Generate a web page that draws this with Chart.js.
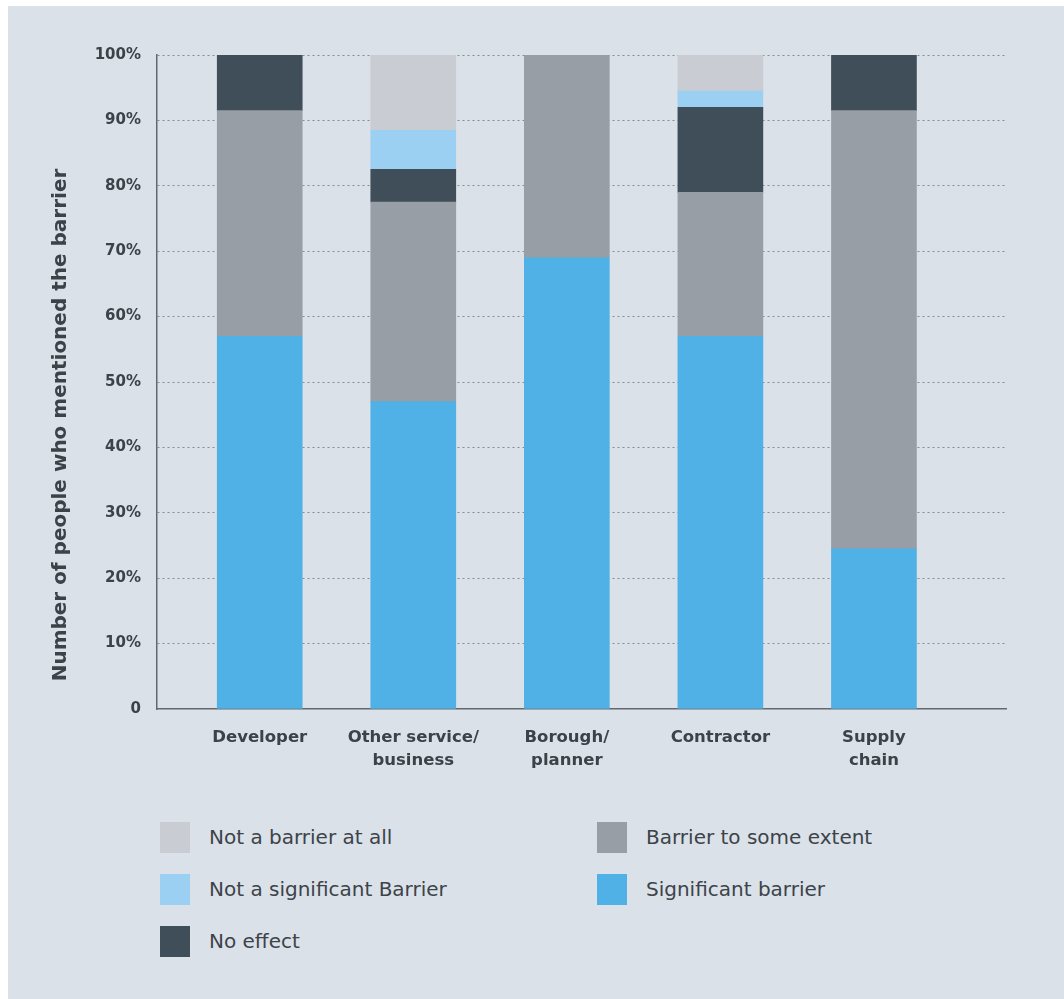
<!DOCTYPE html>
<html lang="en">
<head>
<meta charset="utf-8">
<title>Barriers by respondent type</title>
<script src="https://cdn.jsdelivr.net/npm/chart.js"></script>
<style>
  html, body {
    margin: 0;
    padding: 0;
    background: #ffffff;
  }
  .panel {
    position: absolute;
    left: 8px;
    top: 6px;
    width: 1056px;
    height: 993px;
    background: #dae1e8;
  }
  #chartWrap {
    position: absolute;
    left: 0;
    top: 0;
    width: 1064px;
    height: 790px;
  }
  #legend {
    position: absolute;
    left: 0;
    top: 0;
    font-family: 'DejaVu Sans', sans-serif;
    font-size: 20px;
    color: #3d4349;
  }
  .legend-item {
    position: absolute;
    display: flex;
    align-items: center;
    white-space: nowrap;
  }
  .legend-box {
    width: 30px;
    height: 31px;
    margin-right: 19px;
  }
</style>
</head>
<body>
<div class="panel"></div>
<div id="chartWrap"><canvas id="barrierChart" width="1064" height="790"></canvas></div>
<div id="legend"></div>

<script>
// Categories and tick label lines
const categories = ['Developer', 'Other service/business', 'Borough/planner', 'Contractor', 'Supply chain'];
const categoryLines = [['Developer'], ['Other service/', 'business'], ['Borough/', 'planner'], ['Contractor'], ['Supply', 'chain']];

// Share of responses (%), stacked bottom to top
const significant = [57, 47, 69, 57, 24.5];
const someExtent = [34.5, 30.5, 31, 22, 67];
const noEffect = [8.5, 5, 0, 13, 8.5];
const notSignificant = [0, 6, 0, 2.5, 0];
const notAtAll = [0, 11.5, 0, 5.5, 0];

// Y axis ticks
const yTicks = [0, 10, 20, 30, 40, 50, 60, 70, 80, 90, 100];

const textColor = '#3c4248';
const axisTitle = 'Number of people who mentioned the barrier';

function toPoints(values) {
  return values.map((v, i) => ({ x: i, y: v }));
}

const datasets = [
  { label: 'Significant barrier', data: toPoints(significant), backgroundColor: '#4fb1e5' },
  { label: 'Barrier to some extent', data: toPoints(someExtent), backgroundColor: '#979ea6' },
  { label: 'No effect', data: toPoints(noEffect), backgroundColor: '#3f4e59' },
  { label: 'Not a significant Barrier', data: toPoints(notSignificant), backgroundColor: '#9bd0f3' },
  { label: 'Not a barrier at all', data: toPoints(notAtAll), backgroundColor: '#c9ccd2' },
];

// Rotated y title, drawn a little below the plot's middle
const yTitlePlugin = {
  id: 'yTitle',
  afterDraw(chart) {
    const ctx = chart.ctx;
    ctx.save();
    ctx.translate(66, 425);
    ctx.rotate(-Math.PI / 2);
    ctx.font = 'bold 20px "DejaVu Sans"';
    ctx.fillStyle = textColor;
    ctx.textAlign = 'center';
    ctx.textBaseline = 'alphabetic';
    ctx.fillText(axisTitle, 0, 0);
    ctx.restore();
  },
};

const chart = new Chart(document.getElementById('barrierChart'), {
  type: 'bar',
  data: { datasets: datasets },
  plugins: [yTitlePlugin],
  options: {
    responsive: false,
    animation: false,
    devicePixelRatio: 1,
    layout: { padding: { left: 0, right: 58, top: 55, bottom: 0 } },
    plugins: {
      legend: { display: false },
      tooltip: { enabled: false },
    },
    datasets: {
      bar: { barThickness: 85, borderWidth: 0 },
    },
    scales: {
      x: {
        type: 'linear',
        stacked: true,
        offset: false,
        min: -0.669,
        max: 4.86,
        afterBuildTicks: (scale) => {
          scale.ticks = categories.map((_, i) => ({ value: i }));
        },
        afterFit: (scale) => {
          scale.height = 81;
        },
        grid: { display: false, drawTicks: false, offset: false },
        border: { display: true, color: '#62686d', width: 1.5 },
        ticks: {
          autoSkip: false,
          maxRotation: 0,
          padding: 17,
          color: textColor,
          font: { family: 'DejaVu Sans', size: 16.5, weight: 'bold', lineHeight: 1.4 },
          callback: (value) => categoryLines[value] || '',
        },
      },
      y: {
        stacked: true,
        min: 0,
        max: 100,
        afterBuildTicks: (scale) => {
          scale.ticks = yTicks.map((v) => ({ value: v }));
        },
        afterFit: (scale) => {
          scale.width = 157;
        },
        grid: {
          drawTicks: false,
          color: (ctx) => (ctx.tick && ctx.tick.value === 0 ? 'rgba(0,0,0,0)' : 'rgba(105,112,118,0.75)'),
          lineWidth: 1,
        },
        // dash applies to the grid lines; the axis line itself stays solid
        border: { display: true, color: '#62686d', width: 1.5, dash: [2, 3] },
        ticks: {
          padding: 16,
          color: textColor,
          font: { family: 'DejaVu Sans', size: 15, weight: 'bold' },
          callback: (value) => (value === 0 ? '0' : value + '%'),
        },
      },
    },
  },
});

// Legend in two columns, built from the datasets
const legendLayout = [
  { label: 'Not a barrier at all', x: 160, y: 837 },
  { label: 'Not a significant Barrier', x: 160, y: 889 },
  { label: 'No effect', x: 160, y: 941 },
  { label: 'Barrier to some extent', x: 597, y: 837 },
  { label: 'Significant barrier', x: 597, y: 889 },
];

const legendEl = document.getElementById('legend');
legendLayout.forEach((item) => {
  const ds = chart.data.datasets.find((d) => d.label === item.label);
  const row = document.createElement('div');
  row.className = 'legend-item';
  row.style.left = item.x + 'px';
  row.style.top = item.y - 16 + 'px';
  row.style.height = '32px';
  const box = document.createElement('div');
  box.className = 'legend-box';
  box.style.background = ds.backgroundColor;
  const text = document.createElement('span');
  text.textContent = ds.label;
  row.appendChild(box);
  row.appendChild(text);
  legendEl.appendChild(row);
});
</script>
</body>
</html>
